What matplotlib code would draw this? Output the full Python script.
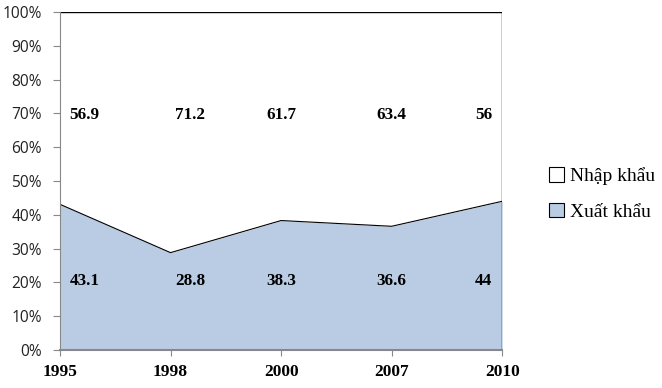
import matplotlib
matplotlib.use('Agg')
import matplotlib.pyplot as plt
import numpy as np
from matplotlib.patches import Patch

# --- Data ---
years = ['1995', '1998', '2000', '2007', '2010']
xuat_khau = [43.1, 28.8, 38.3, 36.6, 44]
nhap_khau = [56.9, 71.2, 61.7, 63.4, 56]

SERIF = ['Liberation Serif', 'DejaVu Serif']
SANS = ['Open Sans', 'DejaVu Sans']
EXPORT_COLOR = '#b9cce4'

fig = plt.figure(figsize=(6.62, 3.88), dpi=100)
ax = fig.add_axes([0.0906, 0.098, 0.668, 0.871])

x = np.arange(len(years))
exp = np.array(xuat_khau)
imp = np.array(nhap_khau)

ax.fill_between(x, 0, exp, color=EXPORT_COLOR, linewidth=0)
ax.fill_between(x, exp, exp + imp, color='white', linewidth=0)
ax.plot(x, exp, color='black', linewidth=0.8)
ax.plot(x, exp + imp, color='black', linewidth=1.0)
ax.plot([x[-1], x[-1]], [0, 100], color='black', linewidth=1.0)

ax.set_xlim(x[0], x[-1])
ax.set_ylim(0, 100)
ax.set_yticks(np.arange(0, 101, 10))
ax.set_yticklabels([f'{v}%' for v in range(0, 101, 10)], family=SANS,
                   fontsize=11.2, color='#222222')
ax.set_xticks(x)
ax.set_xticklabels(years, family=SERIF, fontsize=12.5, fontweight='bold')
ax.tick_params(axis='x', length=4, color='#888888', pad=6)
ax.tick_params(axis='y', length=5, color='#888888', pad=8)

for side in ['top', 'right']:
    ax.spines[side].set_visible(False)
ax.spines['left'].set_color('#888888')
ax.spines['bottom'].set_color('#888888')
ax.spines['bottom'].set_linewidth(1.5)

# value labels
offsets = [0.22, 0.18, 0.0, 0.0, -0.17]
for i in range(len(years)):
    dx = offsets[i]
    ax.text(x[i] + dx, 69.5, f'{nhap_khau[i]:g}', ha='center', va='center',
            family=SERIF, fontsize=12.3, fontweight='bold')
    ax.text(x[i] + dx, 20.5, f'{xuat_khau[i]:g}', ha='center', va='center',
            family=SERIF, fontsize=12.3, fontweight='bold')

handles = [Patch(facecolor='white', edgecolor='black', linewidth=0.8),
           Patch(facecolor=EXPORT_COLOR, edgecolor='black', linewidth=0.8)]
fig.legend(handles, ['Nhập khẩu', 'Xuất khẩu'], loc='center left',
           bbox_to_anchor=(0.803, 0.50), frameon=False,
           prop={'family': SERIF, 'size': 14},
           handlelength=0.75, handleheight=0.75, handletextpad=0.3,
           labelspacing=0.9)

fig.savefig('out.png', dpi=100)
